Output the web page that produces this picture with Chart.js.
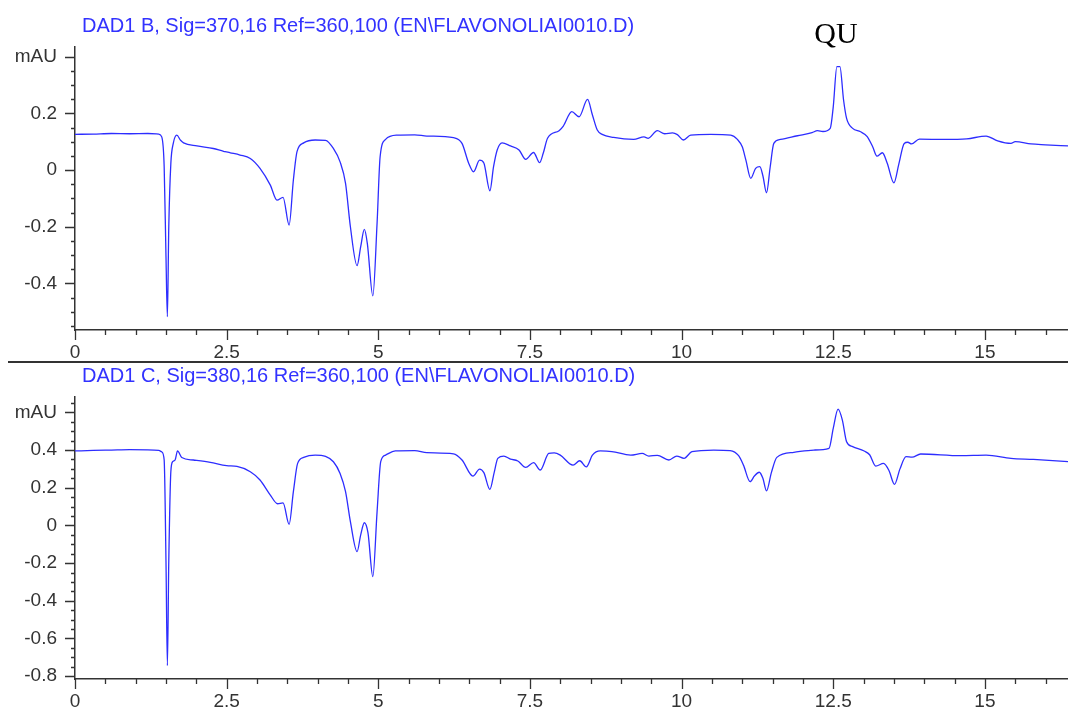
<!DOCTYPE html>
<html><head><meta charset="utf-8">
<script src="https://cdn.jsdelivr.net/npm/chart.js@4.4.1/dist/chart.umd.min.js"></script>
<style>
html,body{margin:0;padding:0;background:#fff;width:1068px;height:708px;overflow:hidden;}
#wrap{position:relative;width:1068px;height:708px;overflow:hidden;}
canvas{position:absolute;left:0;}
.title{position:absolute;left:82px;font-family:"Liberation Sans",Arial,sans-serif;font-size:20px;line-height:20px;color:rgb(50,50,255);white-space:nowrap;}
#sep{position:absolute;left:8px;top:361px;width:1060px;height:1.5px;background:#333;}
#qu{position:absolute;left:786px;top:18px;width:100px;text-align:center;font-family:"Liberation Serif","Times New Roman",serif;font-size:30px;line-height:30px;color:#000;}
</style></head>
<body><div id="wrap">
<canvas id="cB" width="1068" height="362" style="top:0px"></canvas>
<canvas id="cC" width="1068" height="346" style="top:362px"></canvas>
<div class="title" id="tB" style="top:15px">DAD1 B, Sig=370,16 Ref=360,100 (EN\FLAVONOLIAI0010.D)</div>
<div class="title" id="tC" style="top:365px">DAD1 C, Sig=380,16 Ref=360,100 (EN\FLAVONOLIAI0010.D)</div>
<div id="sep"></div>
<div id="qu">QU</div>
</div>
<script>
// ---- data: signal B (370 nm) ----
const timesB = [0.00,0.30,0.60,0.90,1.20,1.38,1.43,1.47,1.50,1.523,1.546,1.58,1.62,1.678,1.74,1.79,2.01,2.28,2.45,2.50,2.56,2.72,2.89,3.05,3.22,3.33,3.43,3.53,3.60,3.66,3.77,3.96,4.13,4.26,4.37,4.46,4.54,4.65,4.71,4.77,4.82,4.91,4.98,5.03,5.12,5.31,5.60,5.80,6.24,6.38,6.49,6.57,6.67,6.74,6.84,6.90,6.96,7.04,7.18,7.32,7.43,7.56,7.66,7.72,7.79,7.98,8.05,8.19,8.31,8.45,8.53,8.61,8.69,8.88,9.21,9.38,9.45,9.60,9.72,9.85,9.93,10.03,10.15,10.48,10.81,10.92,11.00,11.06,11.14,11.22,11.29,11.34,11.40,11.46,11.52,11.63,11.91,12.15,12.24,12.33,12.45,12.50,12.56,12.61,12.67,12.72,12.82,12.95,13.06,13.15,13.22,13.31,13.39,13.50,13.58,13.67,13.73,13.79,13.92,14.33,14.70,15.02,15.21,15.43,15.50,15.76,16.00,16.37];
const valuesB = [0.126,0.127,0.129,0.128,0.129,0.127,0.117,0.012,-0.306,-0.517,-0.200,0.023,0.094,0.123,0.105,0.096,0.085,0.076,0.066,0.064,0.061,0.053,0.041,0.006,-0.053,-0.106,-0.096,-0.194,-0.035,0.065,0.096,0.106,0.105,0.076,0.029,-0.047,-0.200,-0.337,-0.270,-0.209,-0.260,-0.444,-0.187,0.047,0.108,0.123,0.124,0.120,0.114,0.094,0.024,-0.006,0.035,0.025,-0.073,0.012,0.071,0.096,0.085,0.071,0.038,0.062,0.026,0.060,0.112,0.139,0.155,0.206,0.188,0.249,0.194,0.141,0.126,0.115,0.108,0.117,0.112,0.139,0.128,0.131,0.125,0.106,0.123,0.126,0.123,0.108,0.082,0.035,-0.029,0.006,0.012,-0.020,-0.080,0.010,0.094,0.108,0.121,0.132,0.139,0.136,0.147,0.223,0.365,0.365,0.247,0.182,0.147,0.135,0.118,0.082,0.049,0.061,0.024,-0.045,0.020,0.094,0.098,0.092,0.109,0.108,0.110,0.120,0.103,0.094,0.100,0.092,0.089,0.085];

// ---- data: signal C (380 nm) ----
const timesC = [0.00,0.30,0.60,0.90,1.20,1.38,1.43,1.47,1.50,1.523,1.546,1.58,1.61,1.65,1.69,1.76,1.95,2.23,2.50,2.67,2.89,3.05,3.22,3.34,3.43,3.53,3.60,3.67,3.77,3.96,4.13,4.26,4.37,4.46,4.54,4.65,4.71,4.77,4.83,4.91,4.98,5.04,5.12,5.28,5.60,5.80,6.24,6.38,6.56,6.67,6.74,6.84,6.91,6.97,7.07,7.18,7.30,7.43,7.56,7.67,7.81,7.90,8.00,8.21,8.32,8.43,8.53,8.66,8.85,9.16,9.35,9.46,9.60,9.79,9.92,10.04,10.17,10.53,10.80,10.94,11.02,11.13,11.20,11.28,11.34,11.40,11.48,11.57,11.85,12.18,12.43,12.50,12.58,12.65,12.72,12.82,13.01,13.10,13.20,13.33,13.42,13.51,13.60,13.70,13.80,13.94,14.60,15.02,15.43,15.80,16.37];
const valuesC = [0.395,0.398,0.400,0.402,0.401,0.398,0.390,0.347,-0.190,-0.744,-0.190,0.285,0.338,0.347,0.395,0.360,0.347,0.335,0.317,0.313,0.285,0.241,0.161,0.115,0.120,0.006,0.179,0.329,0.361,0.373,0.366,0.338,0.276,0.179,0.020,-0.139,-0.050,0.014,-0.040,-0.272,0.073,0.338,0.373,0.395,0.397,0.386,0.380,0.347,0.262,0.299,0.280,0.191,0.280,0.356,0.368,0.352,0.342,0.308,0.333,0.294,0.382,0.385,0.373,0.320,0.343,0.311,0.373,0.395,0.392,0.373,0.382,0.368,0.372,0.347,0.368,0.356,0.391,0.400,0.397,0.370,0.320,0.232,0.262,0.282,0.250,0.183,0.280,0.361,0.388,0.400,0.409,0.515,0.617,0.559,0.444,0.418,0.395,0.375,0.315,0.329,0.290,0.218,0.300,0.365,0.362,0.379,0.370,0.373,0.356,0.350,0.338];

// ---- axis ticks and labels ----
const xMajorTicks = [0, 2.5, 5, 7.5, 10, 12.5, 15];
const xTickLabels = ['0', '2.5', '5', '7.5', '10', '12.5', '15'];
const yMajorTicksB = [-0.4, -0.2, 0, 0.2, 0.4];
const yTickLabelsB = ['-0.4', '-0.2', '0', '0.2', 'mAU'];
const yMajorTicksC = [-0.8, -0.6, -0.4, -0.2, 0, 0.2, 0.4, 0.6];
const yTickLabelsC = ['-0.8', '-0.6', '-0.4', '-0.2', '0', '0.2', '0.4', 'mAU'];

const AXIS = '#333333';
const near = (a, b) => Math.abs(a - b) < 1e-6;

const tickMarks = {
  id: 'tickMarks',
  afterDraw(chart) {
    const ctx = chart.ctx, a = chart.chartArea;
    const xs = chart.scales.x, ys = chart.scales.y;
    ctx.save();
    ctx.strokeStyle = AXIS; ctx.lineWidth = 1.3;
    ctx.beginPath();
    xs.ticks.forEach(t => {
      const p = Math.round(xs.getPixelForValue(t.value)) + 0.5;
      const L = t.mj ? 10 : 5;
      ctx.moveTo(p, a.bottom); ctx.lineTo(p, a.bottom + L);
    });
    ys.ticks.forEach(t => {
      const p = Math.round(ys.getPixelForValue(t.value)) + 0.5;
      const L = t.mj ? 10 : 4;
      ctx.moveTo(a.left, p); ctx.lineTo(a.left - L, p);
    });
    ctx.stroke();
    ctx.restore();
  }
};

function buildChart(id, times, values, yMin, yMax, yMajor, yLabels, padTop, xAxisH) {
  const data = times.map((t, i) => ({ x: t, y: values[i] }));
  const xMax = 16.37;
  return new Chart(document.getElementById(id), {
    type: 'line',
    data: { datasets: [{ data, borderColor: 'rgb(45,45,255)', borderWidth: 1.3, pointRadius: 0, cubicInterpolationMode: 'monotone', fill: false }] },
    options: {
      responsive: false, maintainAspectRatio: false, animation: false,
      layout: { padding: { top: padTop, left: 0, right: 0, bottom: 0 } },
      plugins: { legend: { display: false }, tooltip: { enabled: false }, title: { display: false } },
      scales: {
        x: {
          type: 'linear', min: 0, max: xMax,
          afterFit(s) { s.height = xAxisH; },
          afterBuildTicks(s) {
            const arr = [];
            for (let i = 0; i * 0.5 <= xMax; i++) {
              const v = i * 0.5;
              arr.push({ value: v, mj: xMajorTicks.some(m => near(m, v)) });
            }
            s.ticks = arr;
          },
          grid: { display: true, drawOnChartArea: false, drawTicks: true, tickLength: 10, tickColor: 'rgba(0,0,0,0)' },
          border: { display: true, color: AXIS, width: 1.5 },
          ticks: {
            autoSkip: false, maxRotation: 0, padding: 1, color: '#333',
            font: { family: '"Liberation Sans", Arial, sans-serif', size: 19 },
            callback(v) { const k = xMajorTicks.findIndex(m => near(m, v)); return k >= 0 ? xTickLabels[k] : ''; }
          }
        },
        y: {
          type: 'linear', min: yMin, max: yMax,
          afterFit(s) { s.width = 75; },
          afterBuildTicks(s) {
            const arr = [];
            for (let k = Math.ceil(yMin / 0.05 - 1e-9); k * 0.05 <= yMax + 1e-9; k++) {
              const v = Math.round(k * 5) / 100;
              arr.push({ value: v, mj: yMajor.some(m => near(m, v)) });
            }
            s.ticks = arr;
          },
          grid: { display: true, drawOnChartArea: false, drawTicks: true, tickLength: 10, tickColor: 'rgba(0,0,0,0)' },
          border: { display: true, color: AXIS, width: 1.5 },
          ticks: {
            autoSkip: false, padding: 8, color: '#333',
            font: { family: '"Liberation Sans", Arial, sans-serif', size: 19 },
            callback(v) { const k = yMajor.findIndex(m => near(m, v)); return k >= 0 ? yLabels[k] : ''; }
          }
        }
      }
    },
    plugins: [tickMarks]
  });
}

buildChart('cB', timesB, valuesB, -0.564, 0.435, yMajorTicksB, yTickLabelsB, 46.7, 32);
buildChart('cC', timesC, valuesC, -0.815, 0.683, yMajorTicksC, yTickLabelsC, 34.7, 29);
</script>
</body></html>
